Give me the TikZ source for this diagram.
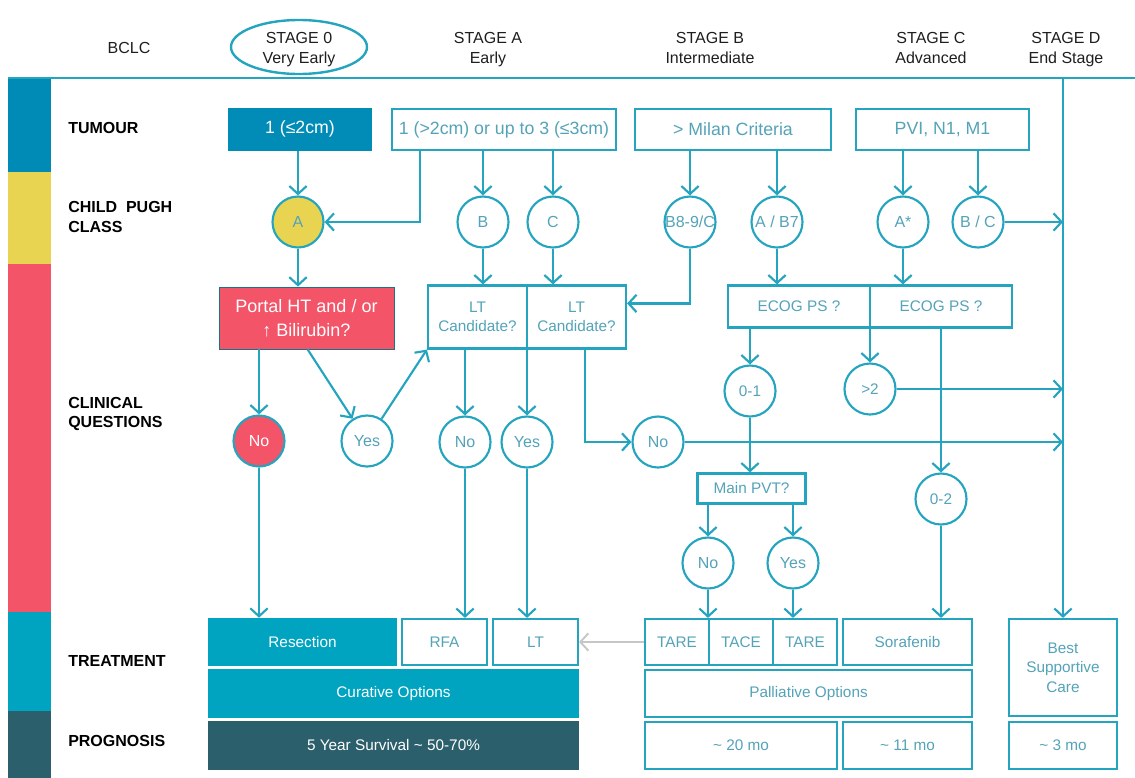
\documentclass[tikz,border=0pt]{standalone}
\usepackage{fontspec}
\setmainfont{Liberation Sans}
\usetikzlibrary{arrows.meta,calc,shapes.geometric}

\definecolor{lineteal}{RGB}{36,164,190}
\definecolor{txtteal}{RGB}{84,163,184}
\definecolor{hdrtxt}{RGB}{30,30,30}
\definecolor{tumblue}{RGB}{0,140,182}
\definecolor{barblue}{RGB}{0,138,182}
\definecolor{cpyellow}{RGB}{233,212,82}
\definecolor{qred}{RGB}{243,84,104}
\definecolor{trteal}{RGB}{0,164,192}
\definecolor{progdark}{RGB}{44,95,108}
\definecolor{greyarr}{RGB}{198,198,198}

\begin{document}
\begin{tikzpicture}[x=0.75pt,y=-0.75pt,
  wh/.style 2 args={minimum width=#1*0.75pt, minimum height=#2*0.75pt},
  hdr/.style={text=hdrtxt, align=center, font=\fontsize{12}{15}\selectfont},
  rowlab/.style={anchor=west, align=left, inner sep=0pt, text=black, font=\bfseries\fontsize{12}{14.5}\selectfont},
  box/.style={draw=lineteal, line width=1.6pt, fill=white, text=txtteal, inner sep=0pt, align=center,
              font=\fontsize{11.5}{14.6}\selectfont},
  fbox/.style={fill=#1, text=white, inner sep=0pt, align=center, font=\fontsize{11.5}{14.6}\selectfont},
  circ/.style={circle, draw=lineteal, line width=1.6pt, fill=white, text=txtteal, inner sep=0pt,
               minimum size=51*0.75pt, font=\fontsize{12}{14}\selectfont},
  arr/.style={draw=lineteal, line width=1.6pt, -{Straight Barb[length=6pt,width=13pt]}},
  garr/.style={draw=greyarr, line width=1.4pt, -{Straight Barb[length=6pt,width=13pt]}}
]
\useasboundingbox (0,0) rectangle (1135,778);

% coloured row bars on the left
\fill[barblue]  (8,78)  rectangle (51,172);
\fill[cpyellow] (8,172) rectangle (51,264);
\fill[qred]     (8,264) rectangle (51,612);
\fill[trteal]   (8,612) rectangle (51,711);
\fill[progdark] (8,711) rectangle (51,778);

% header rule
\draw[lineteal, line width=1.6pt] (8,78) -- (1135,78);
\coordinate (dtop) at (1063,78);

% stage headers
\node[hdr] (bclc) at (129,48) {BCLC};
\node[hdr, ellipse, draw=lineteal, line width=1.8pt, wh={136}{54}, inner sep=0pt] (s0) at (299,47) {};
\node[hdr] (s0t) at (299,49.5) {\strut STAGE 0\\\strut Very Early};
\node[hdr] (sa) at (488,49.5) {\strut STAGE A\\\strut Early};
\node[hdr] (sb) at (710,49.5) {\strut STAGE B\\\strut Intermediate};
\node[hdr] (sc) at (931,49.5) {\strut STAGE C\\\strut Advanced};
\node[hdr] (sd) at (1066,49.5) {\strut STAGE D\\\strut End Stage};

% row labels
\node[rowlab] (ltum) at (68,128) {TUMOUR};
\node[rowlab] (lcp)  at (68,217) {CHILD\ \ PUGH\\CLASS};
\node[rowlab] (lcq)  at (68,414) {CLINICAL\\QUESTIONS};
\node[rowlab] (ltr)  at (68,661) {TREATMENT};
\node[rowlab] (lpr)  at (68,741) {PROGNOSIS};

% tumour row
\node[fbox=tumblue, wh={144}{43}, font=\fontsize{13.3}{16}\selectfont] (t1) at (300,129) {1 (≤2cm)};
\node[box, wh={224}{41}, font=\fontsize{13.3}{16}\selectfont] (t2) at (504,129.5) {1 (>2cm) or up to 3 (≤3cm)};
\node[box, wh={196}{41}, font=\fontsize{13.3}{16}\selectfont] (t3) at (733,129.5) {> Milan Criteria};
\node[box, wh={173}{41}, font=\fontsize{13.3}{16}\selectfont] (t4) at (942.5,129.5) {PVI, N1, M1};

% Child-Pugh row
\node[circ, fill=cpyellow] (A)   at (298,222) {A};
\node[circ] (B)   at (483,222) {B};
\node[circ] (C)   at (553,222) {C};
\node[circ] (B89) at (690,222) {\makebox[0pt]{B8-9/C}};
\node[circ] (AB7) at (777,222) {\makebox[0pt]{A / B7}};
\node[circ] (As)  at (903,222) {A*};
\node[circ] (BC)  at (978,222) {\makebox[0pt]{B / C}};

% clinical questions
\node[fbox=qred, draw=lineteal!70!black, line width=0.6pt, wh={175}{62}, font=\fontsize{13.5}{18}\selectfont] (portal) at (306.5,318) {Portal HT and / or\\↑ Bilirubin?};
\node[box, wh={99}{63}] (lt1) at (477.5,317) {LT\\Candidate?};
\node[box, wh={99}{63}] (lt2) at (576.5,317) {LT\\Candidate?};
\node[box, wh={142}{42}] (ecog1) at (799,306.5) {ECOG PS ?};
\node[box, wh={142}{42}] (ecog2) at (941,306.5) {ECOG PS ?};

\node[circ, fill=qred, text=white] (pno) at (259,441) {No};
\node[circ] (pyes) at (367,441) {Yes};
\node[circ] (lno)  at (465,442) {No};
\node[circ] (lyes) at (527,442) {Yes};
\node[circ] (lno2) at (658,442) {No};
\node[circ, font=\fontsize{11.5}{14}\selectfont] (o1)  at (750,391) {0-1};
\node[circ, font=\fontsize{11.5}{14}\selectfont] (o2g) at (870,389) {>2};
\node[circ, font=\fontsize{11.5}{14}\selectfont] (o02) at (941,499) {0-2};
\node[box, wh={108}{30}] (pvt) at (751.5,488.5) {Main PVT?};
\node[circ] (vno)  at (708,563) {No};
\node[circ] (vyes) at (793,563) {Yes};

% treatment row
\node[fbox=trteal, wh={189}{48}] (res) at (302.5,642) {Resection};
\node[box, wh={85}{46}] (rfa) at (444.5,642) {RFA};
\node[box, wh={85}{46}] (lt)  at (535.5,642) {LT};
\node[box, wh={64}{46}] (tare1) at (677,642) {TARE};
\node[box, wh={64}{46}] (tace)  at (741,642) {TACE};
\node[box, wh={64}{46}] (tare2) at (805,642) {TARE};
\node[box, wh={129}{46}] (sor) at (907.5,642) {Sorafenib};
\node[box, wh={108}{97}] (bsc) at (1063,667.5) {Best\\Supportive\\Care};
\node[fbox=trteal, wh={371}{49}] (cur) at (393.5,693.5) {Curative Options};
\node[box, wh={327}{47}] (pal) at (808.5,693.5) {Palliative Options};

% prognosis row
\node[fbox=progdark, wh={371}{49}] (surv) at (393.5,745.5) {5 Year Survival \textasciitilde\ 50-70\%};
\node[box, wh={192}{47}] (m20) at (741,745.5) {\textasciitilde\ 20 mo};
\node[box, wh={129}{47}] (m11) at (907.5,745.5) {\textasciitilde\ 11 mo};
\node[box, wh={108}{47}] (m3)  at (1063,745.5) {\textasciitilde\ 3 mo};

% connectors: tumour -> Child-Pugh
\draw[arr] (t1.south -| A) -- (A.north);
\draw[arr] ($(t2.south west)+(29,0)$) |- (A.east);
\draw[arr] (t2.south -| B) -- (B.north);
\draw[arr] (t2.south -| C) -- (C.north);
\draw[arr] (t3.south -| B89) -- (B89.north);
\draw[arr] (t3.south -| AB7) -- (AB7.north);
\draw[arr] (t4.south -| As) -- (As.north);
\draw[arr] (t4.south -| BC) -- (BC.north);
\draw[arr] (BC.east) -- (BC.east -| dtop);

% Child-Pugh -> clinical questions
\draw[arr] (A.south) -- (A.south |- portal.north);
\draw[arr] (B.south) -- (B.south |- lt1.north);
\draw[arr] (C.south) -- (C.south |- lt2.north);
\draw[arr] (B89.south) |- ($(lt2.north east)+(0,19)$);
\draw[arr] (AB7.south) -- (AB7.south |- ecog1.north);
\draw[arr] (As.south) -- (As.south |- ecog2.north);

% clinical questions branches
\draw[arr] (portal.south -| pno) -- (pno.north);
\draw[arr] ($(portal.south west)+(89,0)$) -- (pyes);
\draw[arr] (pyes) -- (lt1.south west);
\draw[arr] (lt1.south -| lno) -- (lno.north);
\draw[arr] (lt1.south -| lyes) -- (lyes.north);
\draw[arr] ($(lt2.south west)+(59,0)$) |- (lno2.west);
\draw[arr] (lno2.east) -- (lno2.east -| dtop);
\draw[arr] (ecog1.south -| o1) -- (o1.north);
\draw[arr] (o2g.north |- ecog1.south) -- (o2g.north);
\draw[arr] (o2g.east) -- (o2g.east -| dtop);
\draw[arr] (ecog2.south) -- (o02.north);
\draw[arr] (o1.south) -- (o1.south |- pvt.north);
\draw[arr] (pvt.south -| vno) -- (vno.north);
\draw[arr] (pvt.south -| vyes) -- (vyes.north);

% into treatments
\draw[arr] (pno.south) -- (pno.south |- res.north);
\draw[arr] (lno.south) -- (lno.south |- rfa.north);
\draw[arr] (lyes.south) -- (lyes.south |- lt.north);
\draw[arr] (vno.south) -- (vno.south |- tare1.north);
\draw[arr] (vyes.south) -- (vyes.south |- tare2.north);
\draw[arr] (o02.south) -- (o02.south |- sor.north);
\draw[arr] (dtop) -- (bsc.north);
\draw[garr] (tare1.west) -- (lt.east);
\end{tikzpicture}
\end{document}
